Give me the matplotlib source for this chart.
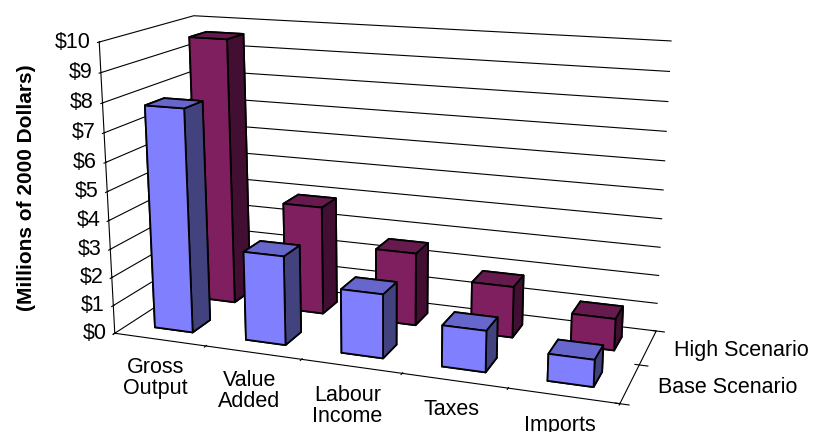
import numpy as np
import matplotlib
matplotlib.use("Agg")
import matplotlib.pyplot as plt

plt.rcParams['font.family'] = ['Liberation Sans', 'DejaVu Sans']

categories = ['Gross\nOutput', 'Value\nAdded', 'Labour\nIncome', 'Taxes', 'Imports']
series_names = ['Base Scenario', 'High Scenario']
base_values = [7.8, 3.1, 2.2, 1.4, 0.9]
high_values = [9.6, 3.9, 2.6, 1.8, 1.1]
value_ticks = [0, 1, 2, 3, 4, 5, 6, 7, 8, 9, 10]
value_tick_labels = ['$0', '$1', '$2', '$3', '$4', '$5', '$6', '$7', '$8', '$9', '$10']
y_label = '(Millions of 2000 Dollars)'

# face colours: bottom, top, front, back, left, right
base_faces = ['#8080ff', '#6666cc', '#8080ff', '#8080ff', '#42427f', '#42427f']
high_faces = ['#801f60', '#661a4d', '#801f60', '#801f60', '#420f32', '#420f32']

fig = plt.figure(figsize=(8.17, 4.32), dpi=100)
ax = fig.add_axes([-0.076, -0.058, 1.08, 1.2], projection='3d')
ax.set_proj_type('persp', focal_length=0.5)
ax.view_init(elev=15, azim=-70)
ax.set_box_aspect((0.975, 0.368, 0.563), zoom=1.1845)

n = len(categories)
bw = 0.42
bd = 0.4
xs, ys, dzs, cols = [], [], [], []
for row, vals, faces in [(1, high_values, high_faces), (0, base_values, base_faces)]:
    for i, v in enumerate(vals):
        xs.append(i + 0.5 - bw / 2)
        ys.append(row + 0.5 - bd / 2)
        dzs.append(v)
        cols.extend(faces)
ax.bar3d(xs, ys, np.zeros(len(xs)), bw, bd, dzs, color=cols, shade=False,
         edgecolor='black', linewidth=1.3)

ax.set_xlim(0, n)
ax.set_ylim(0, 2)
ax.set_zlim(0, 10)

for axis in (ax.xaxis, ax.yaxis, ax.zaxis):
    axis.set_pane_color((1, 1, 1, 0))
    axis.pane.set_edgecolor((1, 1, 1, 0))
    axis.line.set_color('black')
    axis.line.set_linewidth(0.8)
    axis.label.set_visible(False)
    axis.offsetText.set_visible(False)
ax.xaxis._axinfo['grid'].update(color=(1, 1, 1, 0), linewidth=0)
ax.yaxis._axinfo['grid'].update(color=(1, 1, 1, 0), linewidth=0)
ax.zaxis._axinfo['grid'].update(color='black', linewidth=0.8, linestyle='-')
ax.zaxis.set_ticks_position('lower')
ax.zaxis.set_label_position('lower')

ax.set_xticks(np.arange(n + 1))
ax.set_yticks([0, 1, 2])
for axis in (ax.xaxis, ax.yaxis):
    for tk in axis.get_major_ticks():
        tk.label1.set_visible(False)
ax.set_zticks(value_ticks)
ax.set_zticklabels(value_tick_labels, fontsize=15.5)
ax.tick_params(axis='z', pad=-5)
for t in ax.get_zticklabels():
    t.set_horizontalalignment('right')
    t.set_verticalalignment('center')

for i, c in enumerate(categories):
    ax.text(i + 0.5, -0.1, -0.5, c, ha='center', va='top', fontsize=15.5, linespacing=1.0)
for row, s in enumerate(series_names):
    ax.text(n + 0.25, row + 0.5, 0, s, ha='left', va='center', fontsize=15.5)

fig.text(0.033, 0.565, y_label, rotation=90, fontsize=15, fontweight='bold',
         ha='center', va='center')

fig.savefig('out.png', dpi=100)
